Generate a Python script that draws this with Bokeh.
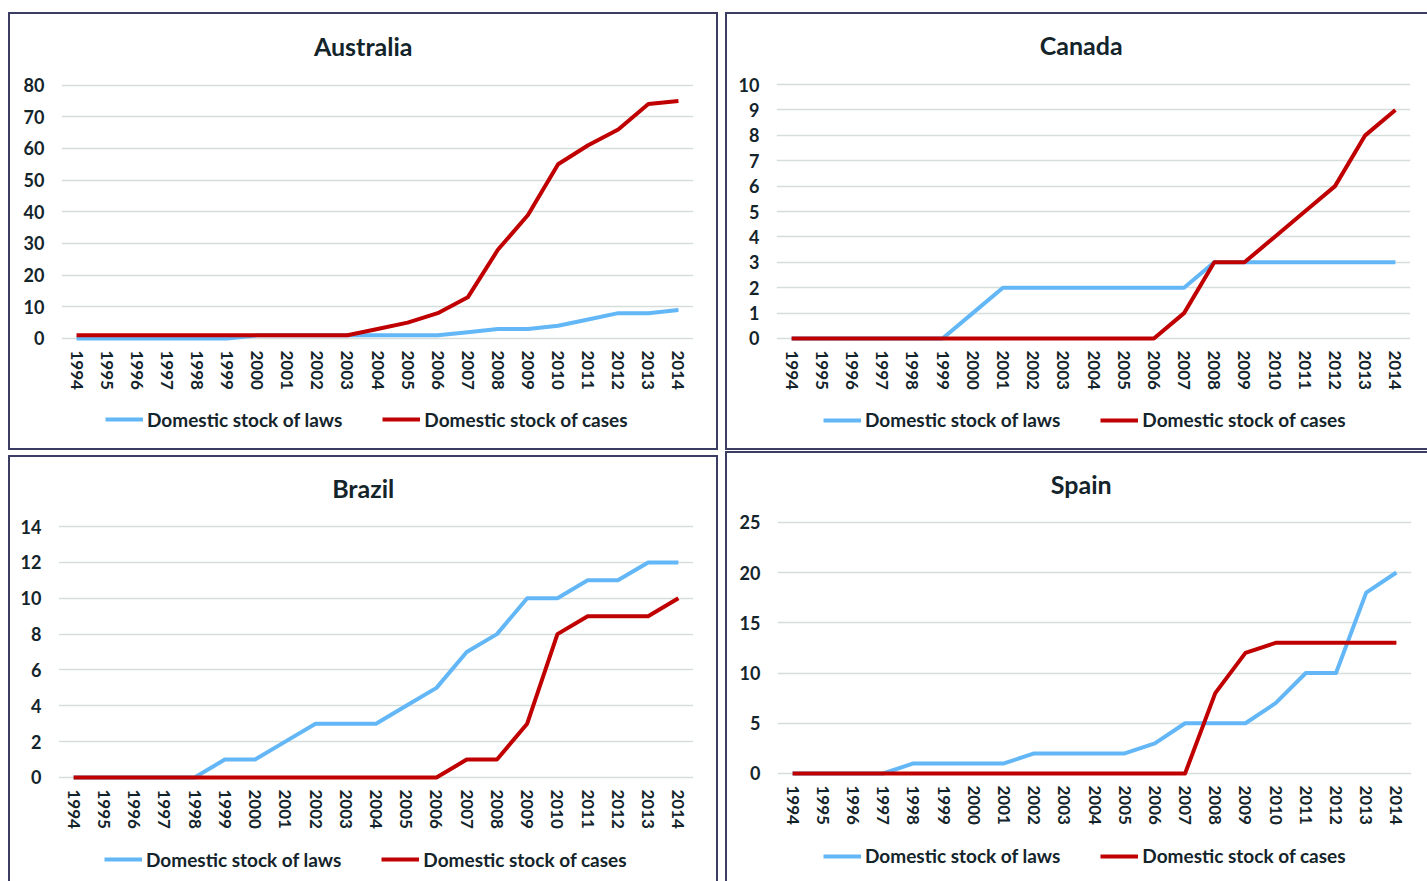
from bokeh.plotting import figure
from bokeh.layouts import row, column
from bokeh.models import Range1d, FixedTicker, Legend, LegendItem, Label
from bokeh.embed import file_html
from bokeh.resources import INLINE

# ---- data -----------------------------------------------------------------
years = list(range(1994, 2015))

australia_laws = [0, 0, 0, 0, 0, 0, 1, 1, 1, 1, 1, 1, 1, 2, 3, 3, 4, 6, 8, 8, 9]
australia_cases = [1, 1, 1, 1, 1, 1, 1, 1, 1, 1, 3, 5, 8, 13, 28, 39, 55, 61, 66, 74, 75]

canada_laws = [0, 0, 0, 0, 0, 0, 1, 2, 2, 2, 2, 2, 2, 2, 3, 3, 3, 3, 3, 3, 3]
canada_cases = [0, 0, 0, 0, 0, 0, 0, 0, 0, 0, 0, 0, 0, 1, 3, 3, 4, 5, 6, 8, 9]

brazil_laws = [0, 0, 0, 0, 0, 1, 1, 2, 3, 3, 3, 4, 5, 7, 8, 10, 10, 11, 11, 12, 12]
brazil_cases = [0, 0, 0, 0, 0, 0, 0, 0, 0, 0, 0, 0, 0, 1, 1, 3, 8, 9, 9, 9, 10]

spain_laws = [0, 0, 0, 0, 1, 1, 1, 1, 2, 2, 2, 2, 3, 5, 5, 5, 7, 10, 10, 18, 20]
spain_cases = [0, 0, 0, 0, 0, 0, 0, 0, 0, 0, 0, 0, 0, 0, 8, 12, 13, 13, 13, 13, 13]

series_names = ["Domestic stock of laws", "Domestic stock of cases"]

# ---- styling --------------------------------------------------------------
FONT = "Lato"
TEXT = "#14242b"
GRID = "#d6dedb"
BORDER_COLOR = "#3b3e62"
LAWS_COLOR = "#63b7f7"
CASES_COLOR = "#c00000"
LINE_W = 4
PAD = 4          # px below the zero line so the lines at 0 are not clipped
BW = 2           # panel border width
ITEM_H = 24      # legend row height


def border_styles(sides):
    return {f"border-{s}": f"{BW}px solid {BORDER_COLOR}" for s in sides}


def canvas_origin(left, top, sides):
    return left + (BW if "left" in sides else 0), top + (BW if "top" in sides else 0)


def chart_part(name, laws, cases, y_max, y_step, g):
    """Upper part of a panel: title, plot area and the year axis."""
    left, top, right, bottom = g["outer"]
    sides = g["chart_sides"]
    w, h = right - left, bottom - top
    cx, cy = canvas_origin(left, top, sides)
    x0, x1 = g["frame_x"]
    y_top, y_zero = g["frame_y"]
    ppu = (y_zero - y_top) / y_max
    frame_bottom = y_zero + PAD

    p = figure(
        width=w, height=h, output_backend="svg", toolbar_location=None, title=None,
        x_range=Range1d(1993.5, 2014.5),
        # the plot area reaches up to the top of the panel so the heading fits in it
        y_range=Range1d(-PAD / ppu, y_max + (y_top - cy) / ppu),
        min_border_left=int(round(x0 - cx)), min_border_right=int(round(cx + w - x1)),
        min_border_top=0, min_border_bottom=int(round(cy + h - frame_bottom)),
        outline_line_color=None, styles=border_styles(sides), margin=g["chart_margin"],
    )
    p.background_fill_color = "white"
    p.border_fill_color = "white"

    p.xaxis.ticker = FixedTicker(ticks=years)
    p.xaxis.major_label_orientation = "vertical"
    p.yaxis.ticker = FixedTicker(ticks=list(range(0, y_max + 1, y_step)))
    for ax in (p.xaxis, p.yaxis):
        ax.axis_line_color = None
        ax.major_tick_line_color = None
        ax.minor_tick_line_color = None
        ax.major_tick_out = 0
        ax.major_tick_in = 0
        ax.major_label_text_font = FONT
        ax.major_label_text_font_style = "bold"
        ax.major_label_text_color = TEXT
    p.xaxis.major_label_text_font_size = "17px"
    p.yaxis.major_label_text_font_size = "18px"
    p.xaxis.major_label_standoff = 8
    p.yaxis.major_label_standoff = 17

    p.xgrid.grid_line_color = None
    p.ygrid.grid_line_color = GRID
    p.ygrid.grid_line_width = 1.6

    p.line(years, laws, line_color=LAWS_COLOR, line_width=LINE_W, line_join="round")
    p.line(years, cases, line_color=CASES_COLOR, line_width=LINE_W, line_join="round")

    tx, tb = g["title"]
    p.add_layout(Label(
        x=tx - x0, y=frame_bottom - tb, x_units="screen", y_units="screen",
        text=name, text_align="center", text_baseline="alphabetic",
        text_font=FONT, text_font_style="bold", text_font_size="25px", text_color=TEXT,
    ))
    return p


def legend_part(laws, cases, g):
    """Lower part of a panel: the series key."""
    left, top, right, bottom = g["legend_box"]
    sides = g["legend_sides"]
    w, h = right - left, bottom - top
    cx, cy = canvas_origin(left, top, sides)
    p = figure(
        width=w, height=h, output_backend="svg", toolbar_location=None, title=None,
        x_axis_type=None, y_axis_type=None,
        x_range=Range1d(0, 1), y_range=Range1d(0, 1),
        min_border=0, outline_line_color=None,
        styles=border_styles(sides), margin=g["legend_margin"],
    )
    p.grid.visible = False
    p.background_fill_color = "white"
    p.border_fill_color = "white"
    # the series are drawn here only to key the legend; they lie outside this view
    r_laws = p.line(years, laws, line_color=LAWS_COLOR, line_width=LINE_W)
    r_cases = p.line(years, cases, line_color=CASES_COLOR, line_width=LINE_W)

    lx, ly = g["legend"]
    legend = Legend(
        items=[LegendItem(label=series_names[0], renderers=[r_laws]),
               LegendItem(label=series_names[1], renderers=[r_cases])],
        orientation="horizontal",
        location=(lx - cx, (cy + h) - (ly + ITEM_H / 2)),
        glyph_width=38, glyph_height=ITEM_H, label_height=ITEM_H,
        label_standoff=4, spacing=40, padding=0, margin=0,
        border_line_color=None, background_fill_alpha=0,
        label_text_font=FONT, label_text_font_style="bold",
        label_text_font_size="19px", label_text_color=TEXT,
    )
    p.add_layout(legend)
    return p


def panel(name, laws, cases, y_max, y_step, g):
    return column(chart_part(name, laws, cases, y_max, y_step, g),
                  legend_part(laws, cases, g), spacing=0)


australia = panel("Australia", australia_laws, australia_cases, 80, 10, {
    "outer": (8, 12, 718, 398), "chart_sides": ["left", "top", "right"], "chart_margin": (12, 0, 0, 8),
    "legend_box": (8, 398, 718, 450), "legend_sides": ["left", "right", "bottom"], "legend_margin": (0, 0, 0, 8),
    "frame_x": (61, 693), "frame_y": (84.5, 337.7), "title": (362.7, 45), "legend": (54, 419)})

canada = panel("Canada", canada_laws, canada_cases, 10, 1, {
    "outer": (725, 12, 1427, 398), "chart_sides": ["left", "top"], "chart_margin": (12, 0, 0, 7),
    "legend_box": (725, 398, 1427, 450), "legend_sides": ["left", "bottom"], "legend_margin": (0, 0, 0, 7),
    "frame_x": (776, 1410), "frame_y": (84, 337.7), "title": (1080.7, 44.5), "legend": (774, 419.5)})

brazil = panel("Brazil", brazil_laws, brazil_cases, 14, 2, {
    "outer": (8, 455, 718, 838), "chart_sides": ["left", "top", "right"], "chart_margin": (5, 0, 0, 8),
    "legend_box": (8, 838, 718, 881), "legend_sides": ["left", "right"], "legend_margin": (0, 0, 0, 8),
    "frame_x": (58, 693), "frame_y": (526, 776.7), "title": (362.7, 487), "legend": (56, 859)})

spain = panel("Spain", spain_laws, spain_cases, 25, 5, {
    "outer": (725, 451, 1427, 834), "chart_sides": ["left", "top"], "chart_margin": (1, 0, 0, 7),
    "legend_box": (725, 834, 1427, 881), "legend_sides": ["left"], "legend_margin": (0, 0, 0, 7),
    "frame_x": (777, 1411), "frame_y": (521.7, 772.7), "title": (1080.7, 483), "legend": (773, 855.7)})

layout = column(row(australia, canada, spacing=0), row(brazil, spain, spacing=0), spacing=0)

with open("out.html", "w") as f:
    f.write(file_html(layout, INLINE))
